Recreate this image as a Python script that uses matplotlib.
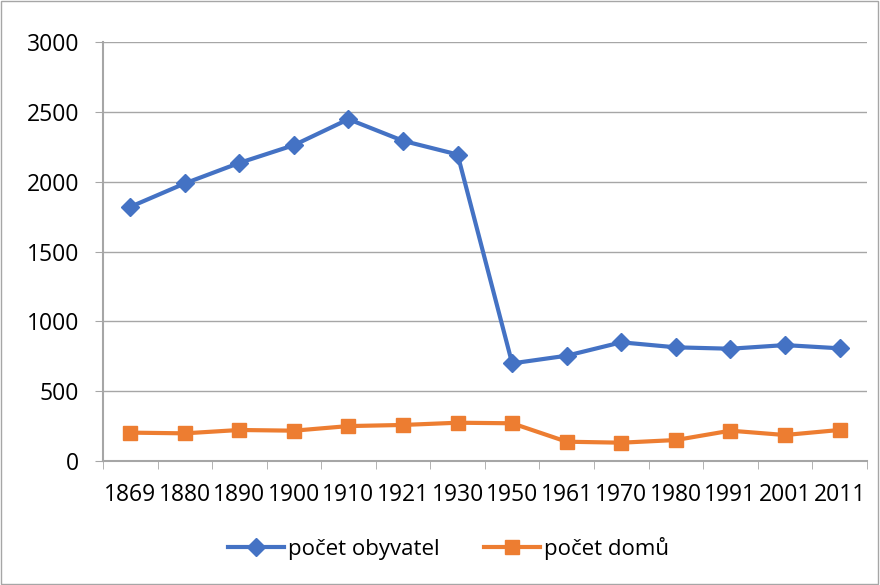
import matplotlib.pyplot as plt

roky = ['1869', '1880', '1890', '1900', '1910', '1921', '1930',
        '1950', '1961', '1970', '1980', '1991', '2001', '2011']
obyvatel = [1820, 1988, 2135, 2262, 2448, 2293, 2195,
            699, 754, 850, 814, 804, 830, 807]
domu = [203, 198, 222, 217, 250, 258, 274,
        270, 138, 131, 150, 217, 186, 222]

plt.rcParams['font.family'] = ['Open Sans', 'DejaVu Sans']

fig = plt.figure(figsize=(8.8, 5.85), dpi=100)
ax = fig.add_axes([0.117, 0.212, 0.868, 0.716])

x = list(range(len(roky)))
ax.plot(x, obyvatel, color='#4472C4', lw=3, marker='D', ms=9, label='počet obyvatel')
ax.plot(x, domu, color='#ED7D31', lw=3, marker='s', ms=10, label='počet domů')

ax.set_xlim(-0.5, len(roky) - 0.5)
ax.set_ylim(0, 3000)
ax.set_yticks(range(0, 3001, 500))
ax.set_xticks(x)
ax.set_xticklabels(roky)
ax.set_xticks([i - 0.5 for i in range(len(roky) + 1)], minor=True)
ax.tick_params(axis='x', which='major', length=0, pad=16, labelsize=16.5)
ax.tick_params(axis='x', which='minor', length=6, color='#A6A6A6')
ax.tick_params(axis='y', length=6, color='#A6A6A6', labelsize=16.5, pad=11)

ax.grid(axis='y', color='#A6A6A6', lw=1)
ax.set_axisbelow(True)
for s in ['top', 'right']:
    ax.spines[s].set_visible(False)
ax.spines['left'].set_color('#A6A6A6')
ax.spines['bottom'].set_color('#A6A6A6')
ax.spines['left'].set_linewidth(1.5)
ax.spines['bottom'].set_linewidth(1.5)

fig.legend(loc='center', bbox_to_anchor=(0.51, 0.062), ncol=2, frameon=False,
           fontsize=16, handlelength=2.5, columnspacing=2.0, handletextpad=0.2)

fig.patches.append(plt.Rectangle((0.001, 0.001), 0.997, 0.997, transform=fig.transFigure,
                                 fill=False, edgecolor='#A6A6A6', lw=1))

plt.savefig('out.png', dpi=100)
